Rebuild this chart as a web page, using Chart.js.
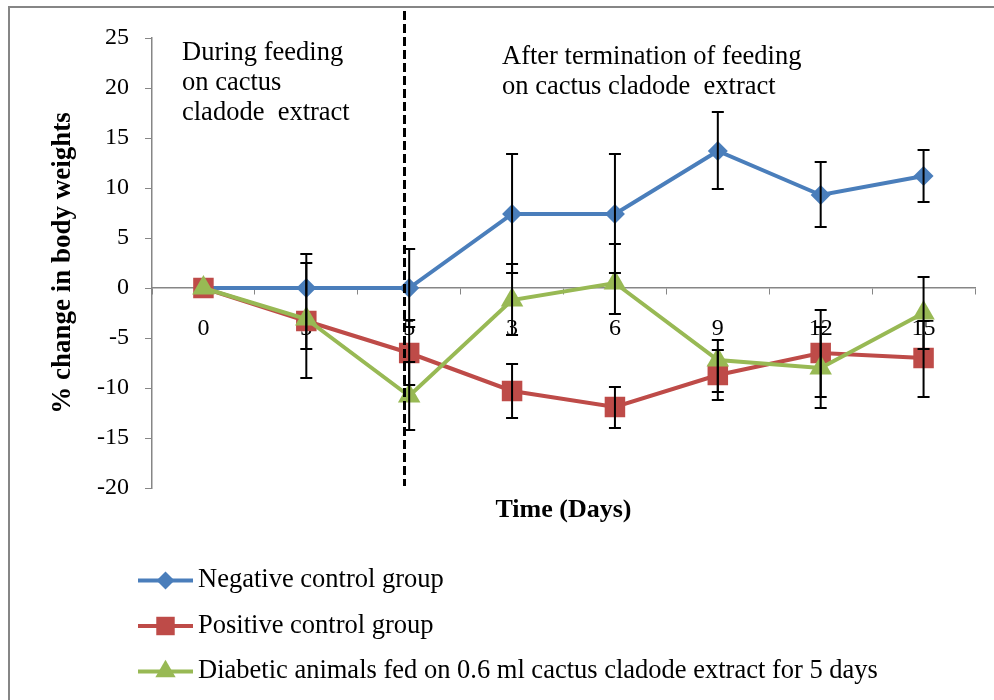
<!DOCTYPE html>
<html><head><meta charset="utf-8">
<script src="https://cdn.jsdelivr.net/npm/chart.js@4"></script>
<style>html,body{margin:0;padding:0;background:#fff}#wrap{position:relative;width:994px;height:700px}</style>
</head><body><div id="wrap"><canvas id="c" width="994" height="700"></canvas></div>
<script>
const categories = ['0','3','5','3','6','9','12','15'];
const seriesNames = ['Negative control group','Positive control group','Diabetic animals fed on 0.6 ml cactus cladode extract for 5 days'];
const negativeControl = [0, 0, 0, 7.4, 7.4, 13.7, 9.3, 11.2];
const positiveControl = [0, -3.3, -6.5, -10.3, -11.9, -8.7, -6.5, -7.0];
const cactusFed = [0, -3.1, -10.8, -1.2, 0.5, -7.2, -8.0, -2.5];
// error bar limits [low, high]; null = none
const negativeErr = [null, null, [-3.9, 3.9], [1.5, 13.4], [1.5, 13.4], [9.9, 17.6], [6.1, 12.6], [8.6, 13.8]];
const positiveErr = [null, [-9.0, 2.5], [-9.7, -3.2], [-13.0, -7.6], [-14.0, -9.9], [-11.2, -6.2], [-10.9, -2.2], [-10.9, -3.3]];
const cactusErr = [null, [-6.1, 3.4], [-14.2, -7.4], [-4.7, 2.4], [-2.6, 4.4], [-10.4, -5.2], [-12.0, -3.9], [-6.1, 1.1]];
const yMin = -20, yMax = 25, yStep = 5;
const dividerIndex = 2;
const noteLeft = ['During feeding', 'on cactus', 'cladode  extract'];
const noteRight = ['After termination of feeding', 'on cactus cladode  extract'];
const xTitle = 'Time (Days)';
const yTitle = '% change in body weights';

const SERIF = "'Liberation Serif','Times New Roman',serif";
const GRAY = '#868686';
const colors = ['#4A7EBB', '#BE4B48', '#98B954'];
const styles = ['rectRot', 'rect', 'triangle'];
const radii = [10, 14.5, 13];
const errs = [negativeErr, positiveErr, cactusErr];

function marker(ctx, style, x, y, r, color) {
  ctx.save();
  ctx.fillStyle = color;
  ctx.beginPath();
  if (style === 'rectRot') {
    ctx.moveTo(x, y - r); ctx.lineTo(x + r, y); ctx.lineTo(x, y + r); ctx.lineTo(x - r, y);
  } else if (style === 'rect') {
    const s = Math.SQRT1_2 * r;
    ctx.rect(x - s, y - s, 2 * s, 2 * s);
  } else {
    ctx.moveTo(x, y - r);
    ctx.lineTo(x + Math.sin(2 * Math.PI / 3) * r, y - Math.cos(2 * Math.PI / 3) * r);
    ctx.lineTo(x + Math.sin(4 * Math.PI / 3) * r, y - Math.cos(4 * Math.PI / 3) * r);
  }
  ctx.closePath();
  ctx.fill();
  ctx.restore();
}

const extras = {
  id: 'extras',
  beforeDraw(chart) {
    const ctx = chart.ctx;
    ctx.save();
    ctx.strokeStyle = GRAY;
    ctx.lineWidth = 2;
    ctx.strokeRect(9, 7, 1000, 720);
    ctx.restore();
  },
  afterDatasetsDraw(chart) {
    const ctx = chart.ctx;
    const ys = chart.scales.y;
    ctx.save();
    ctx.strokeStyle = '#000';
    ctx.lineWidth = 2;
    errs.forEach((arr, di) => {
      const meta = chart.getDatasetMeta(di);
      arr.forEach((e, i) => {
        if (!e) return;
        const x = meta.data[i].x;
        const y1 = ys.getPixelForValue(e[0]);
        const y2 = ys.getPixelForValue(e[1]);
        ctx.beginPath();
        ctx.moveTo(x, y1); ctx.lineTo(x, y2);
        ctx.moveTo(x - 6, y1); ctx.lineTo(x + 6, y1);
        ctx.moveTo(x - 6, y2); ctx.lineTo(x + 6, y2);
        ctx.stroke();
      });
    });
    // divider dashed line
    const xs = chart.scales.x;
    const a = chart.chartArea;
    const dx = Math.round(xs.getPixelForValue(dividerIndex)) - 4.5;
    ctx.lineWidth = 3;
    ctx.setLineDash([9, 4]);
    ctx.beginPath();
    ctx.moveTo(dx, a.top - 27);
    ctx.lineTo(dx, a.bottom - 2);
    ctx.stroke();
    ctx.setLineDash([]);
    // notes
    ctx.fillStyle = '#000';
    ctx.font = '26.5px ' + SERIF;
    ctx.textBaseline = 'middle';
    ctx.textAlign = 'left';
    noteLeft.forEach((t, i) => ctx.fillText(t, a.left + 30, 53 + i * 30));
    noteRight.forEach((t, i) => ctx.fillText(t, 502, 57 + i * 30));
    // x title
    ctx.font = 'bold 26px ' + SERIF;
    ctx.textAlign = 'center';
    ctx.fillText(xTitle, (a.left + a.right) / 2, a.bottom + 22);
    // legend
    ctx.font = '26.5px ' + SERIF;
    ctx.textAlign = 'left';
    seriesNames.forEach((n, i) => {
      const y = 580.5 + i * 45.5;
      ctx.strokeStyle = colors[i];
      ctx.lineWidth = 4;
      ctx.beginPath(); ctx.moveTo(138, y); ctx.lineTo(193, y); ctx.stroke();
      marker(ctx, styles[i], 165.5, y, radii[i] * 0.9, colors[i]);
      ctx.fillStyle = '#000';
      ctx.fillText(n, 198, y);
    });
    ctx.restore();
  }
};

const series = [negativeControl, positiveControl, cactusFed];
new Chart(document.getElementById('c'), {
  type: 'line',
  data: {
    labels: categories,
    datasets: series.map((d, i) => ({
      label: seriesNames[i],
      data: d,
      order: 2 - i,
      borderColor: colors[i],
      backgroundColor: colors[i],
      borderWidth: 4,
      pointStyle: styles[i],
      pointRadius: radii[i],
      pointBorderWidth: 0,
      pointBackgroundColor: colors[i],
      tension: 0,
      fill: false
    }))
  },
  options: {
    responsive: false,
    animation: false,
    devicePixelRatio: 1,
    events: [],
    layout: { padding: { left: 0, top: 38, right: 19, bottom: 212 } },
    plugins: { legend: { display: false }, tooltip: { enabled: false }, title: { display: false } },
    scales: {
      x: {
        type: 'category',
        position: { y: 0 },
        offset: true,
        grid: { offset: true, drawOnChartArea: false, tickLength: 6, color: GRAY, lineWidth: 1 },
        border: { color: GRAY, width: 1.5 },
        ticks: { color: '#000', font: { family: SERIF, size: 24 }, padding: 20, maxRotation: 0, autoSkip: false }
      },
      y: {
        min: yMin, max: yMax,
        ticks: { stepSize: yStep, color: '#000', font: { family: SERIF, size: 24 }, padding: 16 },
        grid: { drawOnChartArea: false, tickLength: 7, color: GRAY, lineWidth: 1 },
        border: { color: GRAY, width: 1.5 },
        title: { display: true, text: yTitle, color: '#000', font: { family: SERIF, size: 27, weight: 'bold' }, padding: { top: 47, bottom: 0 } },
        afterFit(s) { s.width = 152; }
      }
    }
  },
  plugins: [extras]
});
</script></body></html>
